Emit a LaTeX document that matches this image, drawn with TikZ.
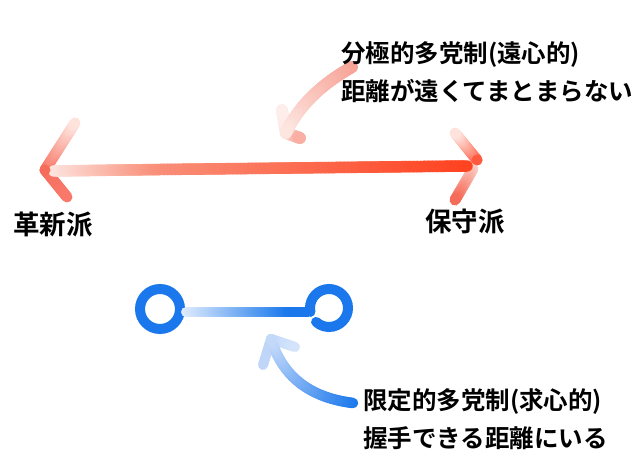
\documentclass[tikz,border=0pt]{standalone}
\usepackage{fontspec}
\setmainfont{Noto Sans CJK JP}[BoldFont={* Bold}]
\usetikzlibrary{calc}
\definecolor{redS}{HTML}{FF4422}
\definecolor{redM}{HTML}{F9907A}
\definecolor{redP}{HTML}{FDE6E1}
\definecolor{salmon}{HTML}{F66C5A}
\definecolor{salmonB}{HTML}{F8786A}
\definecolor{redTipR}{HTML}{FF5A40}
\definecolor{redPaleTop}{HTML}{FEE2DC}
\definecolor{redPaleMid}{HTML}{FCD2CA}
\definecolor{pinkS}{HTML}{F7A194}
\definecolor{pinkP}{HTML}{FDE5E0}
\definecolor{pinkPP}{HTML}{FEEEEB}
\definecolor{pinkB}{HTML}{F9AFA4}
\definecolor{blueS}{HTML}{1A78EC}
\definecolor{blueP}{HTML}{E3EEFD}
\definecolor{blueTip}{HTML}{C3D9FA}
\definecolor{blueBarb}{HTML}{C0D6F8}
\definecolor{blueBarbR}{HTML}{D2E3FB}
% gradient quadratic curve: start, control, end, colour at start, colour at end, width, steps
\newcommand\gcurve[7]{%
  \foreach \gi in {0,...,#7}{%
    \pgfmathsetmacro\gradT{\gi/#7}
    \coordinate (gq1) at ($(#1)!\gradT!(#2)$);
    \coordinate (gq2) at ($(#2)!\gradT!(#3)$);
    \coordinate (gp\gi) at ($(gq1)!\gradT!(gq2)$);
  }
  \foreach \gi [evaluate=\gi as \gj using int(\gi-1), evaluate=\gi as \gpc using 100*\gi/#7] in {1,...,#7}{%
    \draw[line width=#6, line cap=round, color=#5!\gpc!#4] (gp\gj) -- (gp\gi);
  }%
}
\newcommand\gline[6]{%
  \coordinate (gm) at ($(#1)!.5!(#2)$);
  \gcurve{#1}{gm}{#2}{#3}{#4}{#5}{#6}%
}
\tikzset{
  desc/.style={font=\bfseries\fontsize{24.5}{37.5}\selectfont, align=left, inner sep=0pt, anchor=west},
  side/.style={font=\bfseries\fontsize{26.5}{30}\selectfont, inner sep=0pt},
  ring/.style={draw=blueS, line width=10pt, line cap=round}
}
\begin{document}
\begin{tikzpicture}[x=1pt,y=-1pt]
\useasboundingbox (0,0) rectangle (640,465);
% ---- key points
\coordinate (Ltip) at (45,170);
\coordinate (Lup) at (75,123);
\coordinate (Llo) at (67,197);
\coordinate (Rtip) at (477,160);
\coordinate (Rup) at (455,133);
\coordinate (Rlo0) at (473,169);
\coordinate (Rlo) at (455,200);
\coordinate (S0) at (54,171);
\coordinate (S1) at (160,169.5);
\coordinate (S2) at (467,166);
% ---- red double arrow
\gline{Ltip}{Lup}{salmon}{redPaleTop}{11pt}{30}
\gline{Ltip}{Llo}{salmon}{salmonB}{11pt}{10}
\gline{Rtip}{Rup}{redTipR}{redPaleTop}{11pt}{30}
\gline{Rlo0}{Rlo}{redPaleMid}{salmon}{11pt}{30}
\gline{S0}{S1}{redP}{redM}{11.5pt}{40}
\gline{S1}{S2}{redM}{redS}{11.5pt}{80}
\fill[salmon] (Ltip) circle (5.5pt);
\fill[redTipR] (Rtip) circle (5.5pt);
% ---- pink curved arrow (top)
\coordinate (P0) at (352,67);
\coordinate (PC) at (304,94);
\coordinate (P2) at (286,133);
\coordinate (Pup) at (282,110);
\coordinate (Prt) at (300,138);
\gline{P2}{Pup}{pinkP}{pinkPP}{12pt}{15}
\gline{P2}{Prt}{pinkP}{pinkB}{12pt}{15}
\gcurve{P0}{PC}{P2}{pinkS}{pinkP}{12pt}{50}
% ---- blue circles and bar
\draw[ring] (160,309) circle (20);
\draw[ring] (329,308) ++(168:19) arc (168:493:19);
\coordinate (B0) at (186,312);
\coordinate (B1) at (292,312);
\coordinate (B2) at (309,312);
\gline{B0}{B1}{blueP}{blueS}{10pt}{40}
\draw[blueS, line width=10pt] (B1) -- (B2);
% ---- blue curved arrow (bottom)
\coordinate (Q0) at (353,403);
\coordinate (QC) at (288,395);
\coordinate (Q2) at (271,339);
\coordinate (Qdn) at (263,365);
\coordinate (Qrt) at (295,347);
\gline{Q2}{Qdn}{blueBarb}{blueBarb}{10pt}{4}
\gline{Q2}{Qrt}{blueBarb}{blueBarbR}{10pt}{15}
\gcurve{Q0}{QC}{Q2}{blueS}{blueTip}{10.5pt}{50}
% ---- texts
\node[desc] (topdesc) at (341,72) {分極的多党制(遠心的)\\距離が遠くてまとまらない};
\node[side] (kakushin) at (53,225) {革新派};
\node[side] (hoshu) at (465,222) {保守派};
\node[desc] (botdesc) at (363,419) {限定的多党制(求心的)\\握手できる距離にいる};
\end{tikzpicture}
\end{document}
